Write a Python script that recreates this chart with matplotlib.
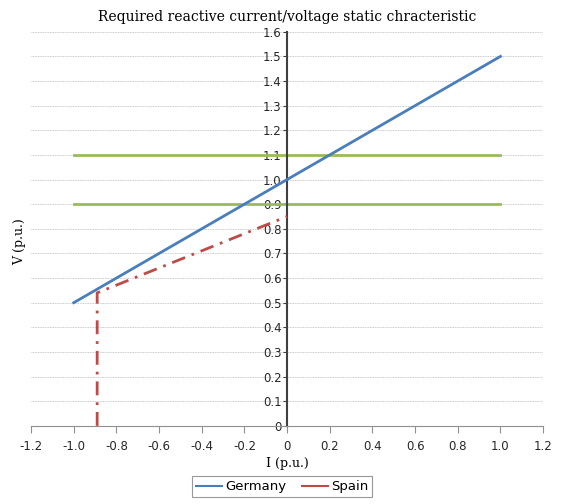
import matplotlib.pyplot as plt
import numpy as np

# data
germany_i = [-1.0, 1.0]
germany_v = [0.5, 1.5]
spain_i = [-0.89, -0.89, 0.0]
spain_v = [0.0, 0.54, 0.85]
band_i = [-1.0, 1.0]
band_low = [0.9, 0.9]
band_high = [1.1, 1.1]
x_ticks = [-1.2, -1.0, -0.8, -0.6, -0.4, -0.2, 0, 0.2, 0.4, 0.6, 0.8, 1.0, 1.2]
y_ticks = [0, 0.1, 0.2, 0.3, 0.4, 0.5, 0.6, 0.7, 0.8, 0.9, 1.0, 1.1, 1.2, 1.3, 1.4, 1.5, 1.6]

fig = plt.figure(figsize=(5.64, 5.04), dpi=100)
ax = fig.add_axes([0.055, 0.155, 0.908, 0.782])

# gridlines
for v in y_ticks[1:]:
    ax.axhline(v, color='#b8b8b8', linestyle=(0, (1, 1)), linewidth=0.6, zorder=0)

ax.plot(band_i, band_low, color='#9BBB59', linewidth=2, zorder=2)
ax.plot(band_i, band_high, color='#9BBB59', linewidth=2, zorder=2)
ax.plot(germany_i, germany_v, color='#4A7EBB', linewidth=2, label='Germany', zorder=3)
ax.plot(spain_i, spain_v, color='#BE4B48', linewidth=2, linestyle=(0, (5, 2.5, 1, 2.5)), zorder=3)
# legend entry for Spain drawn solid like the reference
ax.plot([], [], color='#BE4B48', linewidth=1.5, label='Spain')

ax.set_xlim(-1.2, 1.2)
ax.set_ylim(0, 1.6)

ax.spines['top'].set_visible(False)
ax.spines['right'].set_visible(False)
ax.spines['left'].set_position(('data', 0))
ax.spines['left'].set_color('#404040')
ax.spines['left'].set_linewidth(1.5)
ax.spines['bottom'].set_color('#909090')
ax.spines['bottom'].set_linewidth(0.8)

ax.set_xticks(x_ticks)
ax.set_xticklabels(['%.1f' % t if t != 0 else '0' for t in x_ticks])
ax.set_yticks(y_ticks)
ax.set_yticklabels(['%.1f' % t if t != 0 else '0' for t in y_ticks])
ax.tick_params(axis='x', length=5, color='#909090', labelsize=8.5, pad=5, labelcolor='#262626')
ax.tick_params(axis='y', length=3, color='#404040', labelsize=8.5, pad=1, labelcolor='#262626')

ax.set_title('Required reactive current/voltage static chracteristic',
             family='DejaVu Serif', fontsize=10, pad=8)
ax.set_xlabel('I (p.u.)', family='DejaVu Serif', fontsize=9, labelpad=3)
fig.text(0.035, 0.52, 'V (p.u.)', family='DejaVu Serif', fontsize=9,
         rotation=90, ha='center', va='center')

leg = fig.legend(loc='lower center', bbox_to_anchor=(0.5, 0.0), ncol=2,
                 frameon=True, fancybox=False, edgecolor='#808080',
                 fontsize=9.5, handlelength=2, handletextpad=0.2,
                 columnspacing=1.2, borderpad=0.3)
leg.get_frame().set_linewidth(0.8)
for h in leg.get_lines():
    h.set_linewidth(1.5)

fig.savefig('out.png', dpi=100)
